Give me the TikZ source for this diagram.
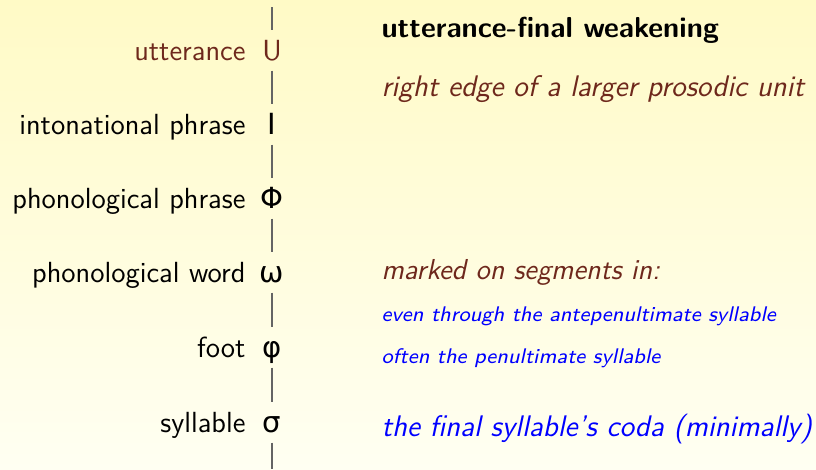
\documentclass[tikz,border=0pt]{standalone}
\usepackage{fontspec}
\setsansfont{Latin Modern Sans}
\newfontfamily\grk{DejaVu Sans}
\renewcommand{\familydefault}{\sfdefault}
\definecolor{bbrown}{RGB}{110,40,28}
\definecolor{bblue}{RGB}{0,0,255}
\definecolor{bgtop}{RGB}{255,250,198}
\definecolor{bgbot}{RGB}{255,255,242}
\definecolor{lineg}{RGB}{100,100,100}
\begin{document}
\begin{tikzpicture}[x=0.38462pt,y=-0.38462pt,
  base/.style={inner sep=0pt,font=\sffamily\fontsize{11.2}{13}\selectfont},
  sym/.style={base,text height=11.2pt,text depth=3.85pt,anchor=base},
  lab/.style={base,anchor=base east},
  txt/.style={base,anchor=base west},
  vline/.style={draw=lineg,line width=0.45pt}]
\shade[top color=bgtop,bottom color=bgbot] (0,0) rectangle (816,469);
\useasboundingbox (0,0) rectangle (816,469);
% symbols
\node[sym,text=bbrown] (U) at (272,60) {U};
\node[sym] (I) at (272,134) {\grk Ι};
\node[sym] (Phi) at (272,208) {\grk Φ};
\node[sym] (om) at (272,282) {\grk ω};
\node[sym] (ph) at (272,357) {\grk φ};
\node[sym] (sg) at (272,432) {\grk σ};
% labels
\node[lab,text=bbrown] (lU) at (246,60) {utterance};
\node[lab] (lI) at (246,134) {intonational phrase};
\node[lab] (lPhi) at (246,208) {phonological phrase};
\node[lab] (lom) at (246,282) {phonological word};
\node[lab] (lph) at (246,357) {foot};
\node[lab] (lsg) at (246,432) {syllable};
% vertical line
\coordinate (top) at (272,7);
\coordinate (bot) at (272,469);
\draw[vline] (top) -- (U.north);
\draw[vline] (U.south) -- (I.north);
\draw[vline] (I.south) -- (Phi.north);
\draw[vline] (Phi.south) -- (om.north);
\draw[vline] (om.south) -- (ph.north);
\draw[vline] (ph.south) -- (sg.north);
\draw[vline] (sg.south) -- (bot);
% right column
\node[txt,font=\sffamily\bfseries\fontsize{11.1}{13}\selectfont] (hd) at (381,37) {utterance-final weakening};
\node[txt,text=bbrown,font=\sffamily\itshape\fontsize{11.45}{13}\selectfont] (re) at (381,96) {right edge of a larger prosodic unit};
\node[txt,text=bbrown,font=\sffamily\itshape\fontsize{11.1}{13}\selectfont] (mk) at (381,279) {marked on segments in:};
\node[txt,text=bblue,font=\sffamily\itshape\fontsize{8.15}{10}\selectfont] (ev) at (381,321) {even through the antepenultimate syllable};
\node[txt,text=bblue,font=\sffamily\itshape\fontsize{8.15}{10}\selectfont] (of) at (381,363) {often the penultimate syllable};
\node[txt,text=bblue,font=\sffamily\itshape\fontsize{11.45}{14}\selectfont] (fc) at (381,436) {the final syllable's coda (minimally)};
\end{tikzpicture}
\end{document}
